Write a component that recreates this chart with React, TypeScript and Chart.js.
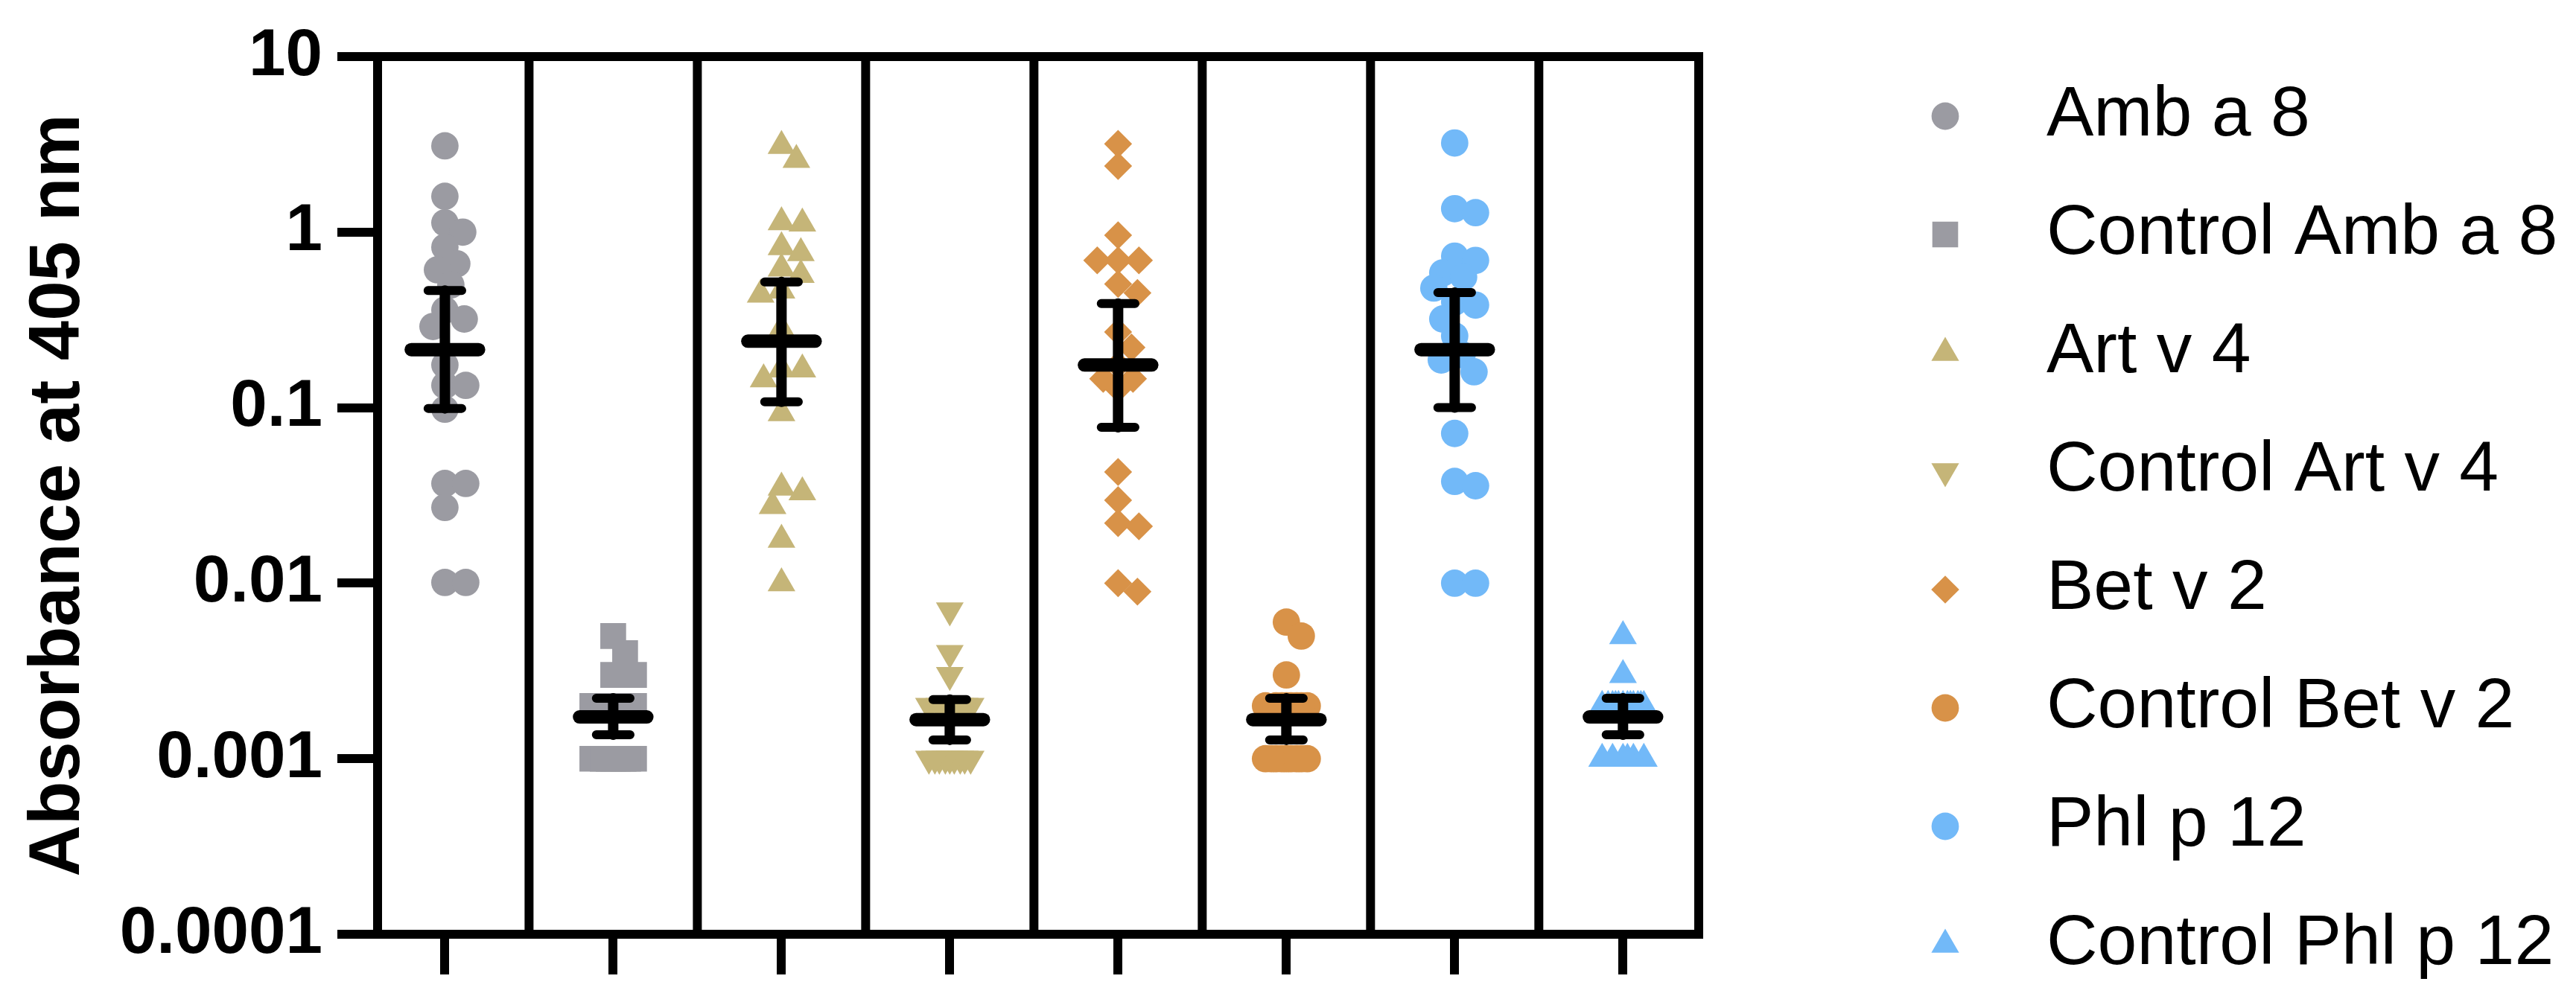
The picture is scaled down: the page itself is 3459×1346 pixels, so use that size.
import React, { useEffect, useRef } from 'react';
import { Chart, registerables } from 'chart.js';
import { drawPoint } from 'chart.js/helpers';

Chart.register(...registerables);

// ---------- data ----------
const categories = [
  'Amb a 8',
  'Control Amb a 8',
  'Art v 4',
  'Control Art v 4',
  'Bet v 2',
  'Control Bet v 2',
  'Phl p 12',
  'Control Phl p 12',
];

const ambA8 = [3.1, 1.6, 1.13, 1.0, 0.82, 0.66, 0.61, 0.5, 0.36, 0.32, 0.29, 0.175, 0.134, 0.134, 0.098, 0.037, 0.037, 0.027, 0.0101, 0.0101];
const controlAmbA8 = [0.005, 0.004, 0.003, 0.003, 0.002, 0.002, 0.002, 0.002, 0.002, 0.002, 0.002, 0.002, 0.001, 0.001, 0.001, 0.001, 0.001, 0.001, 0.001, 0.001];
const artV4 = [3.1, 2.58, 1.14, 1.12, 0.82, 0.76, 0.62, 0.57, 0.465, 0.44, 0.28, 0.165, 0.165, 0.145, 0.093, 0.035, 0.033, 0.0275, 0.0177, 0.01];
const controlArtV4 = [0.007, 0.004, 0.003, 0.002, 0.002, 0.002, 0.002, 0.002, 0.002, 0.002, 0.002, 0.001, 0.001, 0.001, 0.001, 0.001, 0.001, 0.001, 0.001, 0.001];
const betV2 = [3.18, 2.38, 0.96, 0.69, 0.69, 0.69, 0.506, 0.45, 0.27, 0.22, 0.175, 0.146, 0.146, 0.128, 0.043, 0.0297, 0.022, 0.0211, 0.01, 0.00895];
const controlBetV2 = [0.006, 0.005, 0.003, 0.002, 0.002, 0.002, 0.002, 0.002, 0.002, 0.002, 0.002, 0.001, 0.001, 0.001, 0.001, 0.001, 0.001, 0.001, 0.001, 0.001];
const phlP12 = [3.22, 1.36, 1.29, 0.73, 0.69, 0.586, 0.555, 0.48, 0.4, 0.384, 0.32, 0.256, 0.2, 0.187, 0.16, 0.0713, 0.038, 0.0359, 0.01, 0.01];
const controlPhlP12 = [0.005, 0.003, 0.002, 0.002, 0.002, 0.002, 0.002, 0.002, 0.002, 0.002, 0.002, 0.002, 0.002, 0.002, 0.001, 0.001, 0.001, 0.001, 0.001, 0.001];

// geometric mean with 95% CI
const centreValues = [0.214, 0.00173, 0.239, 0.00167, 0.175, 0.00167, 0.214, 0.00173];
const lowerValues = [0.099, 0.00137, 0.108, 0.00128, 0.0773, 0.00128, 0.1, 0.00137];
const upperValues = [0.465, 0.00221, 0.52, 0.00217, 0.392, 0.00221, 0.453, 0.00221];

const yTickValues = [0.0001, 0.001, 0.01, 0.1, 1, 10];
const yTickLabels = ['0.0001', '0.001', '0.01', '0.1', '1', '10'];
const yAxisTitle = 'Absorbance at 405 nm';

const seriesValues = [ambA8, controlAmbA8, artV4, controlArtV4, betV2, controlBetV2, phlP12, controlPhlP12];

// ---------- styles ----------
const GRAY = '#9B9BA2';
const TAN = '#C5B578';
const ORANGE = '#D89248';
const BLUE = '#72B9F8';
const seriesColors = [GRAY, GRAY, TAN, TAN, ORANGE, ORANGE, BLUE, BLUE];
const seriesStyles = ['circle', 'rect', 'triangle', 'triangle', 'rectRot', 'circle', 'circle', 'triangle'];
const seriesRotation = [0, 0, 0, 180, 0, 0, 0, 0];
const seriesRadius = [18.4, 24.5, 21.5, 21.5, 18.8, 18.4, 18.4, 21.5];

const FONT = '"Liberation Sans", Arial, Helvetica, sans-serif';
const W = 3459;
const H = 1346;
const LINE = 12;

// layout constants (pixels)
const AREA_LEFT = 507;
const AREA_TOP = 76;
const AREA_RIGHT = 2281;
const AREA_BOTTOM = 1255;
const LEGEND_MARKER_X = 2612;
const LEGEND_TEXT_X = 2748;
const LEGEND_TOP = 156;
const LEGEND_STEP = 159;

// approximate pixel sizes used only to spread overlapping points sideways
const PX_PER_DECADE = 236;
const PX_PER_CATEGORY = 226;

function swarmOffsets(values: number[], minDist: number, maxOff: number): number[] {
  const order = values.map((_, i) => i).sort((a, b) => values[b] - values[a]);
  const placed: { x: number; y: number }[] = [];
  const out = new Array(values.length).fill(0);
  const cands: number[] = [0];
  for (let s = 2; s <= maxOff; s += 2) cands.push(s, -s);
  for (const i of order) {
    const y = Math.log10(values[i]) * PX_PER_DECADE;
    let chosen = 0;
    let bestD = -1;
    for (const c of cands) {
      let d = Infinity;
      for (const p of placed) {
        const dd = Math.hypot(p.x - c, p.y - y);
        if (dd < d) d = dd;
      }
      if (d >= minDist) {
        chosen = c;
        bestD = Infinity;
        break;
      }
      if (d > bestD) {
        bestD = d;
        chosen = c;
      }
    }
    placed.push({ x: chosen, y });
    out[i] = chosen;
  }
  return out;
}

const framePlugin = {
  id: 'frame',
  beforeDatasetsDraw(chart: any) {
    const { ctx, chartArea } = chart;
    const xs = chart.scales.x;
    ctx.save();
    ctx.strokeStyle = '#000';
    ctx.lineWidth = LINE;
    ctx.lineCap = 'butt';
    // dividers between groups
    for (let i = 0; i < categories.length - 1; i++) {
      const x = xs.getPixelForValue(i + 0.5);
      ctx.beginPath();
      ctx.moveTo(x, chartArea.top);
      ctx.lineTo(x, chartArea.bottom);
      ctx.stroke();
    }
    // top and right border
    ctx.beginPath();
    ctx.moveTo(chartArea.left - LINE / 2, chartArea.top);
    ctx.lineTo(chartArea.right + LINE / 2, chartArea.top);
    ctx.stroke();
    ctx.beginPath();
    ctx.moveTo(chartArea.right, chartArea.top - LINE / 2);
    ctx.lineTo(chartArea.right, chartArea.bottom + LINE / 2);
    ctx.stroke();
    ctx.restore();
  },
  afterDatasetsDraw(chart: any) {
    const { ctx } = chart;
    const xs = chart.scales.x;
    const ys = chart.scales.y;
    ctx.save();
    ctx.strokeStyle = '#000';
    ctx.lineCap = 'round';
    for (let i = 0; i < categories.length; i++) {
      const x = xs.getPixelForValue(i);
      const capHalf = xs.getPixelForValue(i + 0.1) - x;
      const midHalf = xs.getPixelForValue(i + 0.2) - x;
      const yc = ys.getPixelForValue(centreValues[i]);
      const yl = ys.getPixelForValue(lowerValues[i]);
      const yu = ys.getPixelForValue(upperValues[i]);
      ctx.lineWidth = 14;
      ctx.beginPath();
      ctx.moveTo(x, yu);
      ctx.lineTo(x, yl);
      ctx.stroke();
      ctx.lineWidth = 12;
      ctx.beginPath();
      ctx.moveTo(x - capHalf, yu);
      ctx.lineTo(x + capHalf, yu);
      ctx.moveTo(x - capHalf, yl);
      ctx.lineTo(x + capHalf, yl);
      ctx.stroke();
      ctx.lineWidth = 18;
      ctx.beginPath();
      ctx.moveTo(x - midHalf, yc);
      ctx.lineTo(x + midHalf, yc);
      ctx.stroke();
    }
    ctx.restore();
  },
  afterDraw(chart: any) {
    const { ctx } = chart;
    ctx.save();
    categories.forEach((name, i) => {
      const y = LEGEND_TOP + i * LEGEND_STEP;
      ctx.fillStyle = seriesColors[i];
      ctx.strokeStyle = seriesColors[i];
      drawPoint(
        ctx,
        { pointStyle: seriesStyles[i], rotation: seriesRotation[i], radius: seriesRadius[i], borderWidth: 0 } as any,
        LEGEND_MARKER_X,
        y
      );
      ctx.fillStyle = '#000';
      ctx.font = `95px ${FONT}`;
      ctx.textAlign = 'left';
      ctx.textBaseline = 'middle';
      ctx.fillText(name, LEGEND_TEXT_X, y);
    });
    ctx.restore();
  },
};

export default function App() {
  const ref = useRef<HTMLCanvasElement | null>(null);

  useEffect(() => {
    if (!ref.current) return;
    const datasets = seriesValues.map((vals, g) => {
      const offs = swarmOffsets(vals, 27, 29);
      return {
        label: categories[g],
        data: vals.map((v, k) => ({ x: g + offs[k] / PX_PER_CATEGORY, y: v })),
        pointStyle: seriesStyles[g],
        rotation: seriesRotation[g],
        pointRadius: seriesRadius[g],
        backgroundColor: seriesColors[g],
        borderColor: seriesColors[g],
        pointBorderWidth: 0,
        borderWidth: 0,
        showLine: false,
      };
    });

    const chart = new Chart(ref.current, {
      type: 'scatter',
      data: { datasets: datasets as any },
      plugins: [framePlugin],
      options: {
        animation: false,
        responsive: false,
        devicePixelRatio: 1,
        events: [],
        layout: { padding: { left: 0, top: AREA_TOP, right: W - AREA_RIGHT, bottom: 0 } },
        plugins: { legend: { display: false }, tooltip: { enabled: false } },
        scales: {
          x: {
            type: 'linear',
            position: 'bottom',
            min: -0.4,
            max: 7.45,
            afterBuildTicks: (s: any) => {
              s.ticks = categories.map((_, i) => ({ value: i }));
            },
            afterFit: (s: any) => {
              s.height = H - AREA_BOTTOM;
            },
            ticks: { display: false },
            grid: { drawOnChartArea: false, drawTicks: true, tickLength: 54, lineWidth: LINE, color: '#000' },
            border: { display: true, width: LINE, color: '#000' },
          },
          y: {
            type: 'logarithmic',
            position: 'left',
            min: yTickValues[0],
            max: yTickValues[yTickValues.length - 1],
            afterBuildTicks: (s: any) => {
              s.ticks = yTickValues.map((v) => ({ value: v }));
            },
            afterFit: (s: any) => {
              s.width = AREA_LEFT;
            },
            ticks: {
              padding: 20,
              color: '#000',
              font: { family: FONT, size: 89, weight: 'bold' },
              callback: (v: any) => {
                const idx = yTickValues.findIndex((t) => Math.abs(t - Number(v)) / t < 1e-6);
                return idx >= 0 ? yTickLabels[idx] : '';
              },
            },
            grid: { drawOnChartArea: false, drawTicks: true, tickLength: 54, lineWidth: LINE, color: '#000' },
            border: { display: true, width: LINE, color: '#000' },
            title: {
              display: true,
              text: yAxisTitle,
              color: '#000',
              font: { family: FONT, size: 96, weight: 'bold' },
              padding: { top: 22, bottom: 0 },
            },
          },
        },
      } as any,
    });
    return () => chart.destroy();
  }, []);

  return (
    <div style={{ position: 'fixed', left: 0, top: 0, width: W, height: H, background: '#fff' }}>
      <canvas ref={ref} width={W} height={H} style={{ display: 'block', width: W, height: H }} />
    </div>
  );
}
